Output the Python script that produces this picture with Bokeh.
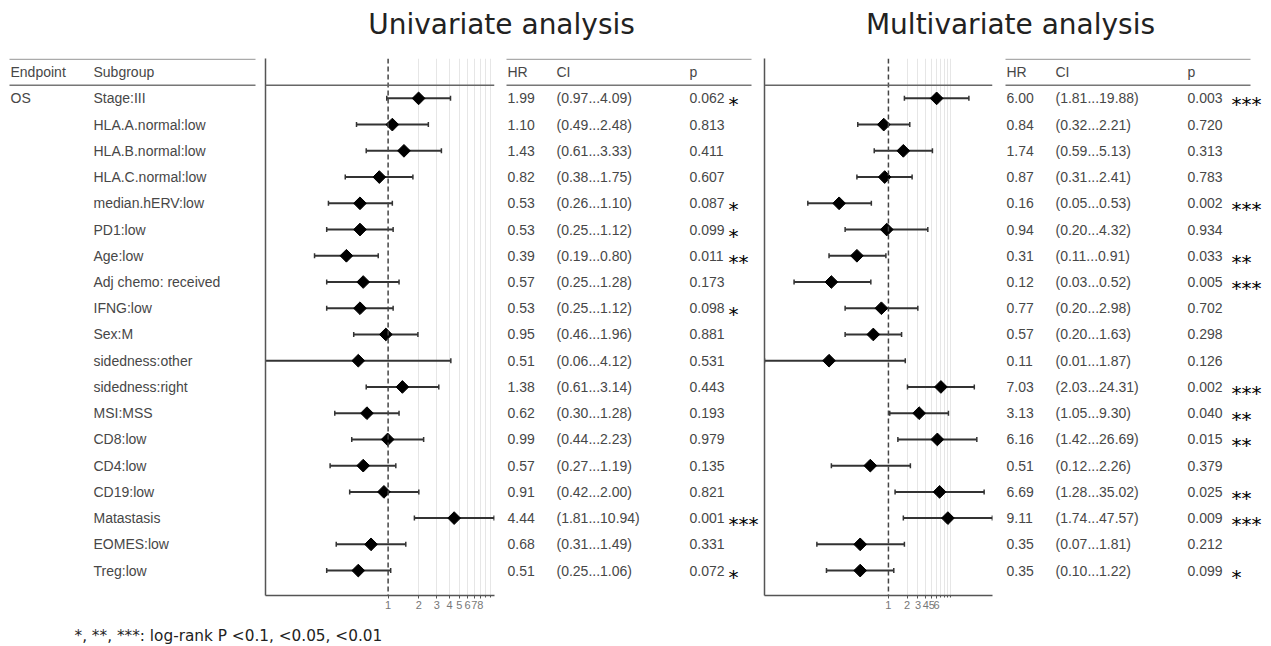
import math
from bokeh.plotting import figure
from bokeh.layouts import column, row
from bokeh.models import Range1d, Span, FixedTicker, PrintfTickFormatter
from bokeh.embed import file_html
from bokeh.resources import INLINE
from bokeh.core.properties import value

# ---------------- data ----------------
endpoint = "OS"
subgroups = ["Stage:III", "HLA.A.normal:low", "HLA.B.normal:low", "HLA.C.normal:low",
             "median.hERV:low", "PD1:low", "Age:low", "Adj chemo: received", "IFNG:low",
             "Sex:M", "sidedness:other", "sidedness:right", "MSI:MSS", "CD8:low",
             "CD4:low", "CD19:low", "Matastasis", "EOMES:low", "Treg:low"]

uni_hr = [1.99, 1.10, 1.43, 0.82, 0.53, 0.53, 0.39, 0.57, 0.53, 0.95, 0.51, 1.38, 0.62, 0.99, 0.57, 0.91, 4.44, 0.68, 0.51]
uni_lo = [0.97, 0.49, 0.61, 0.38, 0.26, 0.25, 0.19, 0.25, 0.25, 0.46, 0.06, 0.61, 0.30, 0.44, 0.27, 0.42, 1.81, 0.31, 0.25]
uni_hi = [4.09, 2.48, 3.33, 1.75, 1.10, 1.12, 0.80, 1.28, 1.12, 1.96, 4.12, 3.14, 1.28, 2.23, 1.19, 2.00, 10.94, 1.49, 1.06]
uni_p = [0.062, 0.813, 0.411, 0.607, 0.087, 0.099, 0.011, 0.173, 0.098, 0.881, 0.531, 0.443, 0.193, 0.979, 0.135, 0.821, 0.001, 0.331, 0.072]
uni_stars = ["*", "", "", "", "*", "*", "**", "", "*", "", "", "", "", "", "", "", "***", "", "*"]

multi_hr = [6.00, 0.84, 1.74, 0.87, 0.16, 0.94, 0.31, 0.12, 0.77, 0.57, 0.11, 7.03, 3.13, 6.16, 0.51, 6.69, 9.11, 0.35, 0.35]
multi_lo = [1.81, 0.32, 0.59, 0.31, 0.05, 0.20, 0.11, 0.03, 0.20, 0.20, 0.01, 2.03, 1.05, 1.42, 0.12, 1.28, 1.74, 0.07, 0.10]
multi_hi = [19.88, 2.21, 5.13, 2.41, 0.53, 4.32, 0.91, 0.52, 2.98, 1.63, 1.87, 24.31, 9.30, 26.69, 2.26, 35.02, 47.57, 1.81, 1.22]
multi_p = [0.003, 0.720, 0.313, 0.783, 0.002, 0.934, 0.033, 0.005, 0.702, 0.298, 0.126, 0.002, 0.040, 0.015, 0.379, 0.025, 0.009, 0.212, 0.099]
multi_stars = ["***", "", "", "", "***", "", "**", "***", "", "", "", "***", "**", "**", "", "**", "***", "", "*"]

uni_ticks = [1, 2, 3, 4, 5, 6, 7, 8]
uni_minor = [9, 10]
multi_ticks = [1, 2, 3, 4, 5, 6]
multi_minor = [7, 8, 9, 10]
grid_vals = [2, 3, 4, 5, 6, 7, 8, 9, 10]

titles = ["Univariate analysis", "Multivariate analysis"]
footnote = "*, **, ***: log-rank P <0.1, <0.05, <0.01"

# ---------------- layout ----------------
rows = list(range(len(subgroups)))
TOP_H = 55
ROW_H = 560
FOOT_H = 646 - TOP_H - ROW_H
BORDER_TOP = 3
BORDER_BOTTOM = 20

TXT_FONT = value("Liberation Sans")
TXT_SIZE = "14px"
TXT_COLOR = "#474747"


def y_range():
    return Range1d(18.95, -1.52)


def base_fig(width, x_range, x_type="linear", left=0, right=0, axes=False):
    p = figure(width=width, height=ROW_H, x_range=x_range, y_range=y_range(),
               x_axis_type=x_type if axes else None, y_axis_type=None if not axes else "linear",
               toolbar_location=None, output_backend="svg",
               min_border_left=left, min_border_right=right,
               min_border_top=BORDER_TOP, min_border_bottom=BORDER_BOTTOM)
    p.outline_line_color = None
    p.background_fill_color = "white"
    p.border_fill_color = "white"
    p.xgrid.visible = False if not axes else True
    p.ygrid.visible = False
    return p


def table_lines(p, x0, x1):
    p.segment(x0=[x0], y0=[-1.49], x1=[x1], y1=[-1.49], line_color="#aaaaaa", line_width=1.5)
    p.segment(x0=[x0], y0=[-0.5], x1=[x1], y1=[-0.5], line_color="#777777", line_width=1.5)


def txt(p, x, y, text, **kw):
    opts = dict(text_font=TXT_FONT, text_font_size=TXT_SIZE, text_color=TXT_COLOR,
                text_baseline="middle", text_align="left")
    opts.update(kw)
    p.text(x=x, y=y, text=text, **opts)


# left table
pA = base_fig(262, Range1d(0, 262))
table_lines(pA, 9, 255)
txt(pA, [10, 93], [-1, -1], ["Endpoint", "Subgroup"])
txt(pA, [10], [0], [endpoint])
txt(pA, [93] * len(rows), rows, subgroups)


def forest(width, xr, left, right, hr, lo, hi, ticks, minor):
    p = base_fig(width, xr, x_type="log", left=left, right=right, axes=True)
    p.xaxis.ticker = FixedTicker(ticks=ticks, minor_ticks=minor)
    p.xaxis.formatter = PrintfTickFormatter(format="%d")
    p.xaxis.axis_line_color = "#555555"
    p.xaxis.axis_line_width = 1.5
    p.xaxis.major_tick_line_color = "#555555"
    p.xaxis.minor_tick_line_color = "#555555"
    p.xaxis.major_tick_in = 0
    p.xaxis.major_tick_out = 3
    p.xaxis.minor_tick_in = 0
    p.xaxis.minor_tick_out = 2
    p.xaxis.major_label_text_font = "Liberation Sans"
    p.xaxis.major_label_text_font_size = "11px"
    p.xaxis.major_label_text_color = "#777777"
    p.xaxis.major_label_standoff = 2
    p.yaxis.ticker = FixedTicker(ticks=[])
    p.yaxis.major_label_text_font_size = "0px"
    p.yaxis.major_tick_out = 0
    p.yaxis.minor_tick_out = 0
    p.yaxis.axis_line_color = "#555555"
    p.yaxis.axis_line_width = 1.5
    p.xgrid.ticker = FixedTicker(ticks=grid_vals)
    p.xgrid.grid_line_color = "#e6e6e6"
    p.xgrid.grid_line_width = 1
    p.add_layout(Span(location=1, dimension="height", line_color="#444444",
                      line_width=1.5, line_dash="5 3"))
    p.add_layout(Span(location=-0.5, dimension="width", line_color="#666666", line_width=1.5))
    p.segment(x0=lo, y0=rows, x1=hi, y1=rows, line_color="#333333", line_width=2)
    p.scatter(x=lo, y=rows, marker="dash", angle=math.pi / 2, size=5,
              line_color="#333333", line_width=1.5)
    p.scatter(x=hi, y=rows, marker="dash", angle=math.pi / 2, size=5,
              line_color="#333333", line_width=1.5)
    p.scatter(x=hr, y=rows, marker="square", angle=math.pi / 4, size=9,
              fill_color="black", line_color="black")
    return p


pB = forest(238, Range1d(0.0628, 11.04), 3, 6, uni_hr, uni_lo, uni_hi, uni_ticks, uni_minor)
pD = forest(238, Range1d(0.01, 47.8), 2, 8, multi_hr, multi_lo, multi_hi, multi_ticks, multi_minor)


def stats_table(width, x0, hr, lo, hi, pv, stars, xs):
    p = base_fig(width, Range1d(x0, x0 + width))
    table_lines(p, xs[0] - 1, xs[4])
    txt(p, xs[:3], [-1, -1, -1], ["HR", "CI", "p"])
    txt(p, [xs[0]] * len(rows), rows, [f"{v:.2f}" for v in hr])
    txt(p, [xs[1]] * len(rows), rows, [f"({a:.2f}...{b:.2f})" for a, b in zip(lo, hi)])
    txt(p, [xs[2]] * len(rows), rows, [f"{v:.3f}" for v in pv])
    sr = [r for r, s in zip(rows, stars) if s]
    st = [s for s in stars if s]
    p.text(x=[xs[3]] * len(sr), y=sr, text=st, text_font=value("DejaVu Sans"),
           text_font_size="20px", text_color="black", text_baseline="middle",
           text_align="left", y_offset=6)
    return p


pC = stats_table(262, 500, uni_hr, uni_lo, uni_hi, uni_p, uni_stars, [507, 556, 689, 728, 751])
pE = stats_table(271, 1000, multi_hr, multi_lo, multi_hi, multi_p, multi_stars, [1006, 1055, 1187, 1231, 1250])

# title strip
pT = figure(width=1271, height=TOP_H, x_range=Range1d(0, 1271), y_range=Range1d(TOP_H, 0),
            x_axis_type=None, y_axis_type=None, toolbar_location=None, output_backend="svg",
            min_border=0)
pT.outline_line_color = None
pT.xgrid.visible = False
pT.ygrid.visible = False
pT.text(x=[501, 1010], y=[24, 24], text=titles, text_font=value("DejaVu Sans"),
        text_font_size="28px", text_color="#222222", text_baseline="middle", text_align="center")

# footnote strip
pF = figure(width=1271, height=FOOT_H, x_range=Range1d(0, 1271), y_range=Range1d(FOOT_H, 0),
            x_axis_type=None, y_axis_type=None, toolbar_location=None, output_backend="svg",
            min_border=0)
pF.outline_line_color = None
pF.xgrid.visible = False
pF.ygrid.visible = False
pF.text(x=[74], y=[20], text=[footnote], text_font=value("DejaVu Sans"),
        text_font_size="15.3px", text_color="#222222", text_baseline="middle", text_align="left")

layout = column(pT, row(pA, pB, pC, pD, pE), pF)

open("out.html", "w").write(file_html(layout, INLINE))
